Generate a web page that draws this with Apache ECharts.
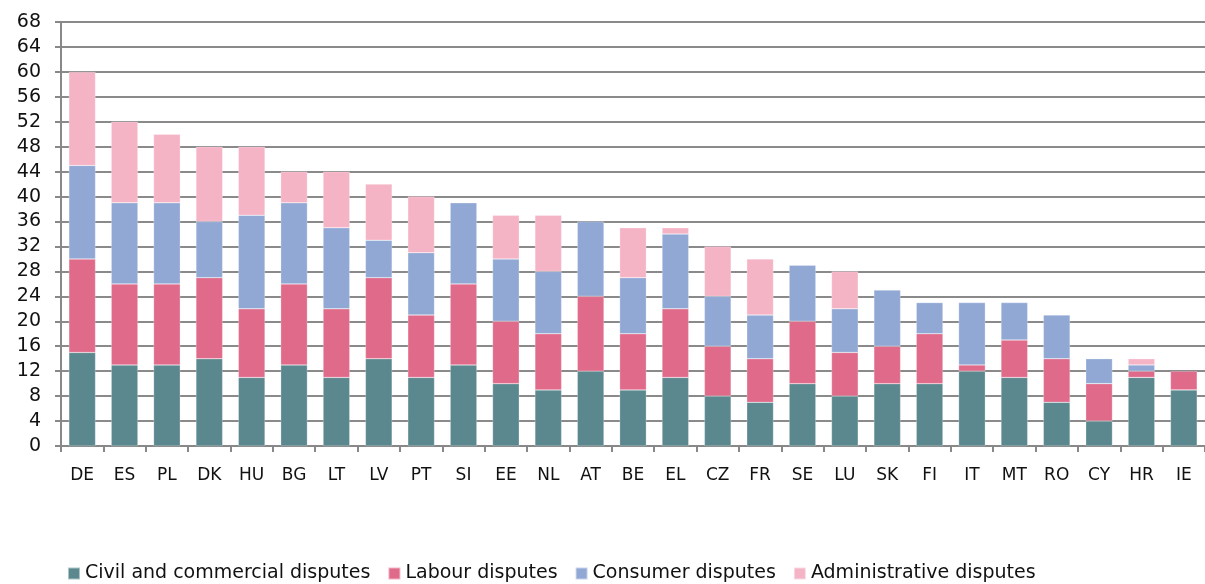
<!DOCTYPE html>
<html><head><meta charset="utf-8">
<script src="https://cdn.jsdelivr.net/npm/echarts@6/dist/echarts.min.js"></script>
<style>html,body{margin:0;padding:0;background:#fff}#c{width:1205px;height:584px}</style>
</head><body><div id="c"></div>
<script>
const categories = ['DE','ES','PL','DK','HU','BG','LT','LV','PT','SI','EE','NL','AT','BE','EL','CZ','FR','SE','LU','SK','FI','IT','MT','RO','CY','HR','IE'];
const civil =          [15,13,13,14,11,13,11,14,11,13,10, 9,12, 9,11, 8, 7,10, 8,10,10,12,11, 7, 4,11, 9];
const labour =         [15,13,13,13,11,13,11,13,10,13,10, 9,12, 9,11, 8, 7,10, 7, 6, 8, 1, 6, 7, 6, 1, 3];
const consumer =       [15,13,13, 9,15,13,13, 6,10,13,10,10,12, 9,12, 8, 7, 9, 7, 9, 5,10, 6, 7, 4, 1, 0];
const administrative = [15,13,11,12,11, 5, 9, 9, 9, 0, 7, 9, 0, 8, 1, 8, 9, 0, 6, 0, 0, 0, 0, 0, 0, 1, 0];
const seriesNames = ['Civil and commercial disputes','Labour disputes','Consumer disputes','Administrative disputes'];
const colors = ['#5A888E','#E06A8A','#91A8D4','#F5B3C6'];
const yTicks = {min:0, max:68, interval:4};

const chart = echarts.init(document.getElementById('c'), null, {renderer:'canvas'});
const data = [civil, labour, consumer, administrative];
chart.setOption({
  animation:false,
  color: colors,
  textStyle:{fontFamily:'DejaVu Sans'},
  grid:{left:61,right:0,top:22,bottom:138,containLabel:false},
  legend:{
    top:559, left:62, itemWidth:12, itemHeight:12, itemGap:17,
    icon:'rect',
    textStyle:{fontFamily:'DejaVu Sans', fontSize:19, color:'#111'},
    data: seriesNames
  },
  xAxis:{
    type:'category', data:categories,
    axisLine:{lineStyle:{color:'#888',width:2}},
    axisTick:{show:true,length:6,lineStyle:{color:'#888',width:2},alignWithLabel:false},
    axisLabel:{color:'#111',fontSize:17,margin:21}
  },
  yAxis:{
    type:'value', min:yTicks.min, max:yTicks.max, interval:yTicks.interval,
    axisLine:{show:true,lineStyle:{color:'#888',width:2}},
    axisTick:{show:true,length:6,lineStyle:{color:'#888',width:2}},
    axisLabel:{color:'#111',fontSize:19,margin:20},
    splitLine:{lineStyle:{color:'#8a8a8a',width:2}}
  },
  series: seriesNames.map((n,i)=>({
    name:n, type:'bar', stack:'total', barWidth:'63%',
    itemStyle:{color:colors[i], borderColor:'rgba(255,255,255,0.5)', borderWidth:0.5},
    data:data[i].map(v=> v===0 ? null : v)
  }))
});
</script></body></html>
